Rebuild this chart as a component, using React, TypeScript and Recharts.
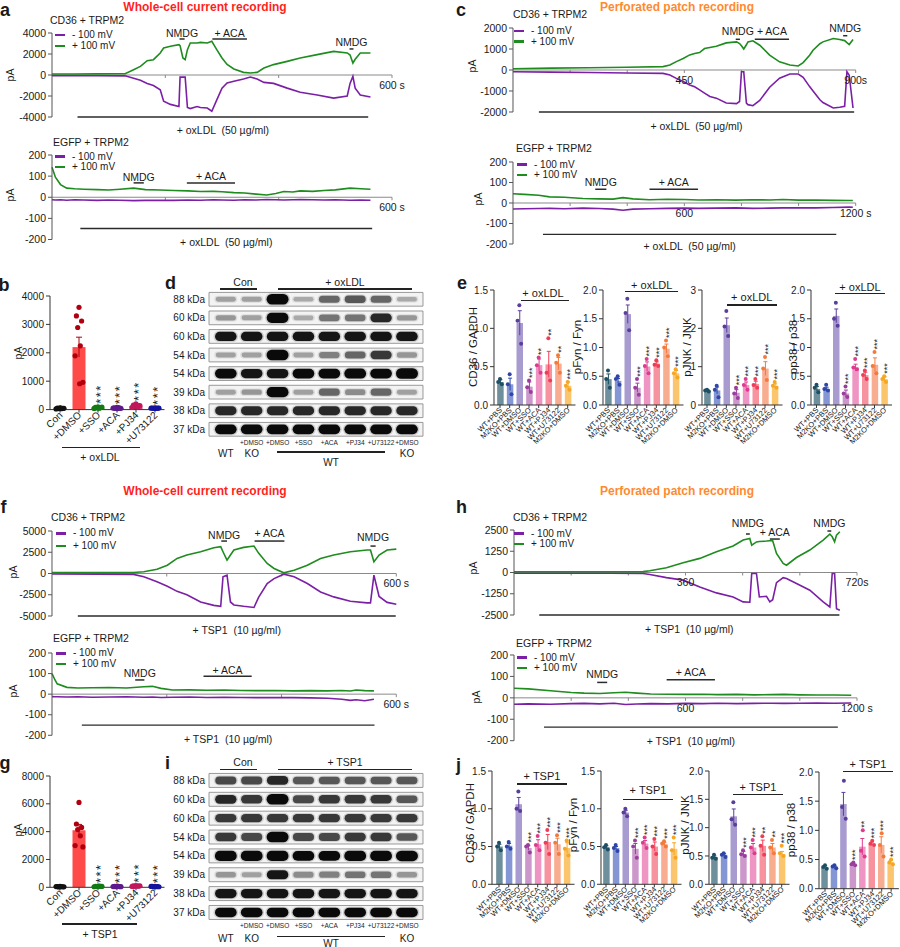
import React from 'react'
import {
  LineChart, Line, XAxis, YAxis, ReferenceLine, Legend,
  ComposedChart, Bar, Scatter, ScatterChart, ReferenceArea,
} from 'recharts'

const FONT = '"Liberation Sans", Arial, Helvetica, sans-serif'
const GREEN = '#1e8c1e'
const PURPLE = '#7b1fa6'
const INK = '#1a1a1a'
const OX = '+ oxLDL \u00a0(50 µg/ml)'
const TSP = '+ TSP1 \u00a0(10 µg/ml)'

// ---- current traces (time in s, current in pA) ----
const aTopT = [0, 40, 80, 129, 144, 156, 168, 179, 191, 197, 209, 224, 226, 231, 235, 239, 244, 256, 262, 274, 282, 291, 300, 309, 321, 338, 350, 362, 374, 391, 415, 438, 468, 497, 521, 526, 531, 535, 544, 562]
const aTopPos = [100, 100, 110, 120, 500, 820, 1360, 1460, 2100, 2570, 2730, 2890, 2800, 1620, 1460, 2410, 3050, 3050, 3110, 3050, 3210, 2400, 1620, 1000, 570, 250, 190, 250, 660, 990, 1300, 1620, 1940, 2250, 2100, 1900, 1140, 1500, 2100, 2100]
const aTopNeg = [-60, -60, -70, -80, -300, -500, -800, -1000, -1400, -2500, -2800, -3000, -200, -200, -200, -3100, -3200, -3000, -3100, -3150, -3450, -2350, -1250, -750, -600, -380, -200, -380, -700, -800, -1250, -1650, -1900, -2200, -2000, -800, -130, -1250, -1900, -2100]

const aBotT = [0, 6, 15, 26, 40, 56, 80, 100, 120, 144, 165, 190, 215, 240, 262, 285, 300, 321, 340, 360, 379, 395, 409, 425, 438, 460, 480, 500, 526, 545, 562]
const aBotPos = [142, 95, 60, 43, 40, 38, 36, 34, 38, 43, 36, 34, 32, 30, 27, 28, 26, 22, 20, 15, 11, 18, 27, 25, 30, 28, 32, 35, 43, 40, 38]
const aBotNeg = [-12, -13, -12, -14, -12, -13, -15, -13, -14, -16, -15, -14, -15, -13, -14, -12, -13, -14, -12, -13, -11, -12, -13, -12, -11, -12, -13, -12, -14, -13, -14]

const cTopT = [0, 100, 200, 300, 394, 412, 429, 447, 464, 477, 490, 503, 517, 534, 560, 587, 595, 600, 606, 613, 617, 630, 648, 674, 700, 727, 749, 762, 779, 788, 806, 814, 841, 858, 871, 877, 883, 893]
const cTopPos = [60, 90, 110, 130, 160, 240, 400, 550, 720, 790, 830, 1020, 1070, 1130, 1290, 1340, 1260, 1150, 1000, 1200, 1340, 1390, 1180, 710, 390, 240, 190, 350, 700, 940, 1250, 1340, 1500, 1450, 1400, 1300, 1210, 1450]
const cTopNeg = [-80, -100, -120, -140, -160, -240, -400, -550, -710, -800, -950, -1100, -1260, -1340, -1575, -1600, -1500, -80, -80, -1575, -1650, -1700, -1450, -820, -390, -190, -190, -350, -790, -1000, -1420, -1550, -1810, -1770, -1730, -80, -250, -1810]

const cBotT = [0, 40, 90, 128, 180, 245, 300, 350, 385, 420, 478, 540, 600, 650, 712, 780, 840, 900, 945, 1000, 1060, 1120, 1178, 1190]
const cBotPos = [45, 42, 38, 30, 28, 22, 20, 19, 26, 20, 16, 18, 17, 15, 16, 14, 16, 15, 17, 14, 15, 13, 12, 12]
const cBotNeg = [-29, -28, -27, -26, -28, -25, -27, -30, -35, -30, -28, -26, -25, -26, -25, -24, -26, -25, -24, -23, -24, -22, -20, -21]

const fTopT = [0, 80, 142, 160, 183, 201, 218, 235, 259, 282, 294, 298, 305, 311, 317, 334, 352, 360, 375, 387, 404, 422, 445, 468, 491, 520, 549, 555, 561, 570, 584, 600]
const fTopPos = [100, 100, 120, 200, 510, 980, 1770, 2170, 2560, 3030, 3150, 2560, 1570, 2170, 2760, 3070, 3230, 2400, 1180, 590, 80, 390, 980, 1770, 2170, 2560, 2760, 2760, 1380, 2170, 2760, 2870]
const fTopNeg = [-60, -70, -100, -390, -980, -1500, -2100, -2500, -3350, -3750, -3860, -390, -200, -3350, -3700, -3860, -4000, -2800, -1180, -600, -80, -390, -1180, -2170, -2750, -3270, -3460, -3460, -200, -2700, -3400, -3620]

const fBotT = [0, 5, 9, 26, 45, 70, 100, 130, 160, 175, 190, 210, 240, 270, 300, 330, 360, 390, 420, 450, 480, 505, 520, 530, 545, 561]
const fBotPos = [100, 70, 50, 33, 30, 31, 32, 30, 36, 38, 28, 20, 21, 19, 20, 18, 17, 18, 16, 17, 16, 18, 15, 20, 17, 16]
const fBotNeg = [-12, -13, -13, -14, -13, -15, -14, -13, -15, -14, -16, -15, -14, -16, -15, -16, -17, -16, -17, -18, -20, -25, -30, -27, -32, -25]

const hTopT = [0, 100, 200, 271, 285, 320, 355, 390, 425, 460, 481, 495, 499, 509, 515, 530, 537, 543, 551, 565, 572, 593, 621, 649, 663, 668, 673, 677, 684]
const hTopPos = [40, 40, 45, 50, 100, 275, 570, 830, 1220, 1560, 1910, 2000, 1610, 1800, 1820, 1850, 1870, 1870, 1120, 530, 430, 880, 1320, 1910, 2260, 2100, 1810, 2200, 2400]
const hTopNeg = [-40, -40, -45, -60, -120, -300, -450, -850, -1200, -1440, -1730, -1750, -60, -60, -1440, -1400, -1730, -1600, -600, -300, -350, -650, -1040, -1730, -2030, -60, -60, -2130, -2220]

const hBotT = [0, 50, 128, 200, 245, 300, 350, 390, 430, 478, 540, 600, 660, 712, 780, 840, 900, 945, 1000, 1060, 1120, 1180]
const hBotPos = [45, 42, 33, 25, 22, 20, 24, 26, 22, 18, 17, 16, 17, 15, 16, 14, 15, 16, 14, 13, 13, 12]
const hBotNeg = [-30, -28, -30, -27, -26, -28, -25, -31, -29, -27, -28, -26, -27, -25, -27, -26, -25, -26, -25, -24, -25, -24]

// application periods (s)
const aTopNmdg = [[225, 234], [525, 532]]
const aTopAca = [283, 344]
const aTopDrug = [45, 558]
const aBotNmdg = [144, 162]
const aBotAca = [238, 323]
const aBotDrug = [50, 565]
const cTopNmdg = [[585, 596], [867, 878]]
const cTopAca = [635, 725]
const cTopDrug = [68, 896]
const cBotNmdg = [288, 327]
const cBotAca = [478, 648]
const cBotDrug = [105, 1132]
const fTopNmdg = [[295, 305], [555, 564]]
const fTopAca = [353, 405]
const fTopDrug = [45, 599]
const fBotNmdg = [145, 161]
const fBotAca = [264, 348]
const fBotDrug = [52, 562]
const hTopNmdg = [[487, 495], [658, 666]]
const hTopAca = [537, 558]
const hTopDrug = [53, 683]
const hBotNmdg = [291, 326]
const hBotAca = [534, 703]
const hBotDrug = [105, 1133]

// axis ticks
const ticks4k = [-4000, -2000, 0, 2000, 4000]
const ticks2k = [-2000, -1000, 0, 1000, 2000]
const ticks5k = [-5000, -2500, 0, 2500, 5000]
const ticks2500 = [-2500, -1250, 0, 1250, 2500]
const ticks200 = [-200, -100, 0, 100, 200]
const t600 = [200, 400, 600]
const t900 = [150, 300, 450, 600, 750, 900]
const t720 = [120, 240, 360, 480, 600, 720]
const t1200 = [200, 400, 600, 800, 1000, 1200]
const lab600 = { 600: '600 s' }
const lab900 = { 450: '450', 900: '900s' }
const lab720 = { 360: '360', 720: '720s' }
const lab1200 = { 600: '600', 1200: '1200 s' }
const seriesOrder = ['- 100 mV', '+ 100 mV']

// ---- b / g : current summary ----
const bCats = ['Con', '+DMSO', '+SSO', '+ACA', '+PJ34', '+U73122']
const bMeans = [45, 2200, 70, 55, 125, 50]
const bErrs = [6, 350, 8, 6, 16, 3]
const bDots = [
  [60, 50, 40, 35, 30, 25, 45, 55],
  [3600, 3300, 3120, 2890, 2245, 1895, 960, 910],
  [100, 80, 70, 60, 50, 40, 90, 65],
  [80, 60, 50, 40, 70, 55, 45, 35],
  [200, 160, 130, 110, 90, 80, 140, 100],
  [60, 55, 50, 45, 40, 50, 55, 48],
]
const bSig = ['', '', '***', '***', '***', '***']
const gMeans = [45, 4100, 65, 57, 90, 55]
const gErrs = [5, 420, 7, 6, 8, 4]
const gDots = [
  [60, 50, 40, 30, 45, 55, 35],
  [6100, 4550, 4300, 4150, 3700, 3000, 2900],
  [90, 70, 60, 50, 80, 40, 65],
  [80, 60, 50, 40, 70, 55, 45],
  [120, 100, 80, 70, 90, 60, 110],
  [70, 60, 50, 45, 55, 65, 40],
]
const bTicks = [0, 1000, 2000, 3000, 4000]
const gTicks = [0, 2000, 4000, 6000, 8000]
const bBarColors = ['#444444', '#ff4a4a', '#3a9a3a', '#7b3aa5', '#d63a78', '#3a3ab5']
const bDotColors = ['#111111', '#b00010', '#127a12', '#5c1a8c', '#c0185a', '#14149c']

// ---- e / j : blot quantification ----
const eCats = ['WT+PBS', 'M2KO+PBS', 'WT+DMSO', 'WT+SSO', 'WT+ACA', 'WT+PJ34', 'WT+U73122', 'M2KO+DMSO']
const eBar = ['#6e909d', '#8596d4', '#a89bd0', '#cc98cc', '#ef95c3', '#f7939f', '#f9ad90', '#fbc56d']
const eDot = ['#1e4f64', '#2d46a8', '#5b3d9b', '#9b3d9d', '#de3a8e', '#ef3d58', '#f47a3c', '#f5a623']

const e1Means = [0.30, 0.27, 1.07, 0.24, 0.52, 0.53, 0.54, 0.25]
const e1Errs = [0.03, 0.08, 0.16, 0.06, 0.08, 0.17, 0.08, 0.05]
const e1Dots = [[0.34, 0.30, 0.27], [0.40, 0.27, 0.14], [1.30, 1.10, 0.80], [0.32, 0.23, 0.17], [0.62, 0.52, 0.42], [0.87, 0.42, 0.32], [0.65, 0.55, 0.42], [0.30, 0.25, 0.20]]
const e1Sig = ['', '', '', '***', '**', '**', '**', '***']
const e2Means = [0.45, 0.42, 1.58, 0.30, 0.67, 0.72, 0.98, 0.55]
const e2Errs = [0.09, 0.04, 0.16, 0.08, 0.08, 0.03, 0.08, 0.05]
const e2Dots = [[0.60, 0.45, 0.30], [0.50, 0.45, 0.35], [1.85, 1.60, 1.30], [0.45, 0.30, 0.18], [0.80, 0.68, 0.55], [0.78, 0.70, 0.68], [1.12, 1.00, 0.85], [0.62, 0.55, 0.48]]
const e3Means = [0.38, 0.38, 2.08, 0.32, 0.52, 0.55, 0.95, 0.50]
const e3Errs = [0.02, 0.09, 0.19, 0.08, 0.08, 0.07, 0.18, 0.05]
const e3Dots = [[0.40, 0.38, 0.35], [0.50, 0.40, 0.20], [2.45, 2.05, 1.80], [0.45, 0.30, 0.18], [0.68, 0.52, 0.40], [0.68, 0.52, 0.45], [1.25, 0.95, 0.65], [0.60, 0.50, 0.45]]
const e4Means = [0.28, 0.28, 1.55, 0.20, 0.65, 0.52, 0.70, 0.45]
const e4Errs = [0.04, 0.03, 0.12, 0.06, 0.06, 0.05, 0.12, 0.04]
const e4Dots = [[0.35, 0.30, 0.22], [0.35, 0.28, 0.25], [1.78, 1.50, 1.38], [0.32, 0.20, 0.14], [0.80, 0.65, 0.62], [0.60, 0.52, 0.45], [0.92, 0.68, 0.55], [0.50, 0.45, 0.40]]
const allSig = ['', '', '', '***', '***', '***', '***', '***']

const j1Means = [0.50, 0.51, 1.06, 0.48, 0.53, 0.56, 0.53, 0.48]
const j1Errs = [0.03, 0.03, 0.09, 0.03, 0.06, 0.10, 0.08, 0.07]
const j1Dots = [[0.55, 0.50, 0.45], [0.56, 0.50, 0.47], [1.23, 1.00, 0.97], [0.52, 0.50, 0.42], [0.64, 0.52, 0.45], [0.72, 0.55, 0.40], [0.65, 0.55, 0.40], [0.58, 0.47, 0.38]]
const j2Means = [0.49, 0.48, 0.95, 0.47, 0.54, 0.50, 0.53, 0.47]
const j2Errs = [0.02, 0.02, 0.03, 0.07, 0.04, 0.06, 0.02, 0.08]
const j2Dots = [[0.52, 0.49, 0.46], [0.52, 0.48, 0.44], [1.00, 0.95, 0.90], [0.58, 0.50, 0.35], [0.62, 0.55, 0.48], [0.60, 0.50, 0.40], [0.57, 0.54, 0.50], [0.62, 0.45, 0.35]]
const j3Means = [0.48, 0.52, 1.20, 0.53, 0.65, 0.68, 0.65, 0.53]
const j3Errs = [0.02, 0.02, 0.13, 0.05, 0.07, 0.10, 0.07, 0.05]
const j3Dots = [[0.52, 0.47, 0.45], [0.55, 0.52, 0.48], [1.45, 1.15, 1.05], [0.60, 0.53, 0.50], [0.78, 0.65, 0.55], [0.85, 0.68, 0.52], [0.78, 0.65, 0.55], [0.68, 0.55, 0.50]]
const j3Sig = ['', '', '', '***', '***', '**', '**', '***']
const j4Means = [0.37, 0.38, 1.45, 0.42, 0.72, 0.77, 0.75, 0.45]
const j4Errs = [0.02, 0.02, 0.20, 0.02, 0.14, 0.03, 0.14, 0.03]
const j4Dots = [[0.40, 0.37, 0.34], [0.40, 0.38, 0.35], [1.85, 1.40, 1.20], [0.45, 0.42, 0.40], [1.00, 0.65, 0.55], [0.82, 0.77, 0.75], [0.95, 0.75, 0.55], [0.50, 0.45, 0.42]]
const j4Sig = ['', '', '', '***', '**', '***', '***', '***']

const t15 = [0, 0.5, 1, 1.5]
const t20 = [0, 0.5, 1, 1.5, 2]
const t30 = [0, 1, 2, 3]

// ---- d / i : western blots (relative band intensity per lane) ----
const blotKda = ['88 kDa', '60 kDa', '60 kDa', '54 kDa', '54 kDa', '39 kDa', '38 kDa', '37 kDa']
const blotNames = ['CD36', 'pFyn', 'Fyn', 'pJNK', 'JNK', 'pp38', 'p38', 'GAPDH']
const laneTop = ['', '+DMSO', '+DMSO', '+SSO', '+ACA', '+PJ34', '+U73122', '+DMSO']
const ROWS = [0, 1, 2, 3, 4, 5, 6, 7]
const dBands = [
  [0.35, 0.35, 1, 0.3, 0.6, 0.65, 0.6, 0.3],
  [0.4, 0.35, 0.95, 0.3, 0.55, 0.55, 0.8, 0.4],
  [0.85, 0.85, 0.85, 0.85, 0.85, 0.85, 0.85, 0.85],
  [0.35, 0.35, 1, 0.35, 0.5, 0.6, 0.75, 0.4],
  [0.9, 0.85, 0.85, 0.9, 0.9, 0.95, 0.9, 1],
  [0.35, 0.4, 0.95, 0.35, 0.6, 0.45, 0.6, 0.35],
  [0.8, 0.8, 0.8, 0.8, 0.8, 0.8, 0.8, 0.8],
  [0.9, 0.9, 0.9, 0.9, 0.9, 0.9, 0.9, 0.9],
]
const iBands = [
  [0.7, 0.7, 0.8, 0.65, 0.65, 0.65, 0.65, 0.65],
  [0.8, 0.75, 1, 0.7, 0.75, 0.75, 0.75, 0.65],
  [0.75, 0.75, 0.75, 0.75, 0.75, 0.75, 0.75, 0.75],
  [0.75, 0.7, 1, 0.7, 0.7, 0.75, 0.75, 0.65],
  [0.95, 0.95, 0.95, 0.9, 0.9, 0.95, 0.95, 1],
  [0.4, 0.35, 0.85, 0.45, 0.5, 0.55, 0.55, 0.4],
  [0.85, 0.85, 0.85, 0.85, 0.85, 0.85, 0.85, 0.85],
  [0.9, 0.9, 0.9, 0.9, 0.9, 0.9, 0.9, 0.9],
]

// ---------- helpers ----------
function Txt({ x, y, s = 10.5, a = 'start', w = 400, c = INK, r = 0, children }: any) {
  const tx = a === 'middle' ? '-50%' : a === 'end' ? '-100%' : '0'
  return (
    <div style={{
      position: 'absolute', left: x, top: y, fontSize: s, fontWeight: w, color: c, whiteSpace: 'nowrap',
      lineHeight: 1, transform: `translate(${tx}, -50%) rotate(${r}deg)`,
    }}>{children}</div>
  )
}

function HLine({ x1, x2, y, c = '#222', h = 1.2 }: any) {
  return <div style={{ position: 'absolute', left: x1, top: y - h / 2, width: x2 - x1, height: h, background: c }} />
}

const legendContent = (lh: number) => (props: any) => {
  const items = [...(props.payload || [])].sort((p: any, q: any) => seriesOrder.indexOf(p.value) - seriesOrder.indexOf(q.value))
  return (
    <div style={{ fontSize: 10, color: INK, whiteSpace: 'nowrap' }}>
      {items.map((e: any) => (
        <div key={e.value} style={{ display: 'flex', alignItems: 'center', height: lh, lineHeight: 1 }}>
          <span style={{ display: 'inline-block', width: 10, height: 2.5, background: e.color, marginRight: 7 }} />
          <span>{e.value}</span>
        </div>
      ))}
    </div>
  )
}

type Mark = { t: number[]; at: number; text: string; off: number; below?: boolean }

function Trace(p: any) {
  const YW = 44, MT = 30, MR = 30, MB = 30
  const data = p.t.map((s: number, i: number) => ({ t: s, pos: p.pos[i], neg: p.neg[i] }))
  const tk = ((p.yDomain[1] - p.yDomain[0]) / p.ph) * 3
  const left = p.px - YW
  const top = p.py - MT
  return (
    <div style={{ position: 'absolute', left, top }}>
      <LineChart width={YW + p.pw + MR} height={MT + p.ph + MB} data={data} margin={{ top: MT, right: MR, bottom: MB, left: 0 }}>
        <XAxis type="number" dataKey="t" domain={[0, p.xMax]} hide />
        <YAxis type="number" domain={p.yDomain} ticks={p.yTicks} interval={0} width={YW} stroke="#555" tickSize={4} tickMargin={2}
          tick={{ fontSize: 10.5, fill: INK }} />
        <ReferenceLine y={0} stroke="#8a8a8a" />
        {p.xTicks.map((s: number) => (
          <ReferenceLine key={s} segment={[{ x: s, y: 0 }, { x: s, y: -tk }]} stroke="#8a8a8a" ifOverflow="visible"
            label={p.xLabels[s] ? { value: p.xLabels[s], position: 'bottom', offset: 3.5, fontSize: 10.5, fill: INK } : undefined} />
        ))}
        {p.marks.map((m: Mark, i: number) => (
          <ReferenceLine key={'m' + i} segment={[{ x: m.t[0], y: m.at }, { x: m.t[1], y: m.at }]}
            stroke="#2b2b2b" strokeWidth={m.below ? 1.3 : 1.5} ifOverflow="visible"
            label={{ value: m.text, position: m.below ? 'bottom' : 'top', offset: m.off, fontSize: 10.5, fill: INK }} />
        ))}
        <Line type="linear" dataKey="neg" name="- 100 mV" stroke={PURPLE} strokeWidth={1.6} dot={false} isAnimationActive={false} />
        <Line type="linear" dataKey="pos" name="+ 100 mV" stroke={GREEN} strokeWidth={1.6} dot={false} isAnimationActive={false} />
        <Legend layout="vertical" align="center" verticalAlign="middle" content={legendContent(p.lh)}
          wrapperStyle={{ left: p.lx - left, top: p.ly - p.lh / 2 - top, width: 'auto', height: 'auto' }} />
      </LineChart>
    </div>
  )
}

function RotTick(props: any) {
  const { x, y, payload, fs } = props
  return (
    <text x={x + 1} y={y} dy={fs * 0.3} transform={`rotate(-45 ${x + 1} ${y})`} textAnchor="end" fontSize={fs} fill={INK}>
      {payload.value}
    </text>
  )
}

const JIT = [0, -2, 2, -1, 1, -3, 3, 0.5]

function BarDots(p: any) {
  const YW = 34, MT = 40, MR = 4, XH = 60
  const n = p.cats.length
  const pad = p.first - p.ax - p.band / 2
  const pw = pad + p.band * n + p.padR
  const ph = p.bottom - p.top
  const rows = p.cats.map((name: string, i: number) => {
    const row: Record<string, any> = {
      name, i, mean: p.means[i], err: p.errs[i], sig: p.sig[i],
      hi: Math.max(p.means[i] + p.errs[i], ...p.dots[i]),
    }
    p.dots[i].forEach((v: number, k: number) => { row['d' + k] = v })
    return row
  })
  const maxK = Math.max(...p.dots.map((d: number[]) => d.length))

  const barShape = (b: any) => {
    const row = b.payload
    const per = b.height / row.mean
    const cx = b.x + b.width / 2
    const base = b.y + b.height
    const eT = b.y - row.err * per
    const eB = Math.min(base, b.y + row.err * per)
    const hiY = base - row.hi * per - p.starGap
    const col = p.dotColors[row.i]
    return (
      <g>
        <rect x={b.x} y={b.y} width={b.width} height={b.height} fill={p.barColors[row.i]} />
        <line x1={cx} x2={cx} y1={eT} y2={eB} stroke={col} strokeWidth={1} />
        <line x1={cx - p.cap} x2={cx + p.cap} y1={eT} y2={eT} stroke={col} strokeWidth={1} />
        {row.sig ? (
          <text x={cx} y={hiY} dy="0.57em" transform={`rotate(-90 ${cx} ${hiY})`} textAnchor="start"
            fontSize={p.starFs} letterSpacing={p.starLs} fill={INK}>{row.sig}</text>
        ) : null}
      </g>
    )
  }
  const dotShape = (k: number) => (d: any) => {
    const v = d.payload ? d.payload['d' + k] : undefined
    if (v == null || !Number.isFinite(d.cy)) return <g />
    return <circle cx={d.cx + JIT[k] * p.spread} cy={d.cy} r={p.dotR} fill={p.dotColors[d.payload.i]} />
  }

  return (
    <div style={{ position: 'absolute', left: p.ax - YW, top: p.top - MT }}>
      <ComposedChart width={YW + pw + MR} height={MT + ph + XH} data={rows} margin={{ top: MT, right: MR, bottom: 0, left: 0 }}>
        <XAxis dataKey="name" type="category" height={XH} interval={0} padding={{ left: pad, right: p.padR }}
          stroke="#333" tickSize={3} tickMargin={1} tick={<RotTick fs={p.catFs} />} />
        <YAxis type="number" domain={p.domain} ticks={p.ticks} tickFormatter={p.fmt} interval={0} width={YW}
          stroke="#333" tickSize={4} tickMargin={2} tick={{ fontSize: p.fs, fill: INK }} />
        <Bar dataKey="mean" barSize={p.barW} shape={barShape} isAnimationActive={false} />
        {Array.from({ length: maxK }, (_, k) => (
          <Scatter key={k} dataKey={'d' + k} shape={dotShape(k)} isAnimationActive={false} />
        ))}
      </ComposedChart>
    </div>
  )
}

const bandShape = (d: any) => {
  const v = d.payload.v
  const w = 19 + 3 * v
  const h = 2 + 8.5 * v
  const op = Math.min(1, 0.15 + 1.1 * v * v)
  return (
    <g>
      <rect x={d.cx - w / 2 - 1.5} y={d.cy - h / 2 - 1} width={w + 3} height={h + 2} rx={(h + 2) / 2} fill="#000" opacity={0.05 + 0.12 * v} />
      <rect x={d.cx - w / 2} y={d.cy - h / 2} width={w} height={h} rx={h / 2} fill="#0a0a0a" opacity={op} />
    </g>
  )
}

const BL = 209, BW = 214, BX0 = -0.65, BX1 = 7.62
const laneX = (k: number) => BL + ((k - BX0) * BW) / (BX1 - BX0)

function Blot(p: any) {
  const LW = 50, RW = 50
  const data = p.rows.flatMap((vals: number[], row: number) => vals.map((v, lane) => ({ lane, row, v })))
  return (
    <div style={{ position: 'absolute', left: BL - LW, top: p.top }}>
      <ScatterChart width={LW + BW + RW} height={p.ph} margin={{ top: 0, right: 0, bottom: 0, left: 0 }}>
        <XAxis type="number" dataKey="lane" domain={[BX0, BX1]} hide />
        <YAxis yAxisId="l" type="number" dataKey="row" domain={[-0.5, 7.5]} reversed ticks={ROWS} interval={0}
          tickFormatter={(v: number) => blotKda[v]} width={LW} axisLine={false} tickLine={false} tickSize={2} tickMargin={2}
          tick={{ fontSize: 10, fill: INK }} />
        <YAxis yAxisId="r" orientation="right" type="number" domain={[-0.5, 7.5]} reversed ticks={ROWS} interval={0}
          tickFormatter={(v: number) => blotNames[v]} width={RW} axisLine={false} tickLine={false} tickSize={2} tickMargin={2}
          tick={{ fontSize: 10, fill: INK }} />
        {ROWS.map((r) => (
          <ReferenceArea key={r} yAxisId="l" x1={BX0} x2={BX1} y1={r - 0.37} y2={r + 0.37} fill="#f3f3f3" fillOpacity={1}
            stroke="#8f8f8f" strokeWidth={0.9} ifOverflow="visible" />
        ))}
        <Scatter yAxisId="l" data={data} shape={bandShape} isAnimationActive={false} />
      </ScatterChart>
    </div>
  )
}

function BlotLabels({ head, drug, yh, yl, ys, yk, yw }: any) {
  return (
    <>
      <Txt x={243} y={head} a="middle">Con</Txt>
      <HLine x1={220} x2={257} y={yl} />
      <Txt x={345} y={head} a="middle">{drug}</Txt>
      <HLine x1={278} x2={412} y={yl} />
      {laneTop.map((s, k) => (s ? <Txt key={k} x={laneX(k)} y={ys} s={6.5} a="middle">{s}</Txt> : null))}
      <Txt x={laneX(0)} y={yk} s={10} a="middle">WT</Txt>
      <Txt x={laneX(1)} y={yk} s={10} a="middle">KO</Txt>
      <Txt x={laneX(7)} y={yk} s={10} a="middle">KO</Txt>
      <HLine x1={277} x2={385} y={yh} />
      <Txt x={331} y={yw} s={10} a="middle">WT</Txt>
    </>
  )
}

const f1 = (v: number) => v.toFixed(1)
const f0 = (v: number) => String(v)
const eCommon = {
  cats: eCats, barColors: eBar, dotColors: eDot, band: 9.67, padR: 3, barW: 6.5, dotR: 2, spread: 0.9,
  fs: 10, catFs: 7.5, starFs: 9, starLs: 0, starGap: 2.5, cap: 2,
}
const bCommon = {
  cats: bCats, barColors: bBarColors, dotColors: bDotColors, band: 19, padR: 0, barW: 13, dotR: 2.6, spread: 1.3,
  fs: 10, catFs: 10, starFs: 13, starLs: 1.5, starGap: 3, cap: 3, sig: bSig,
}

export default function App() {
  return (
    <div style={{ position: 'absolute', left: 0, top: 0, width: 900, height: 947, overflow: 'hidden', background: '#fff', fontFamily: FONT, color: INK }}>
      <Txt x={205} y={6.5} s={12} w={700} c="#ff1f1f" a="middle">Whole-cell current recording</Txt>
      <Txt x={677} y={6.5} s={12} w={700} c="#ff8a2e" a="middle">Perforated patch recording</Txt>
      <Txt x={205} y={491} s={12} w={700} c="#ff1f1f" a="middle">Whole-cell current recording</Txt>
      <Txt x={677} y={491} s={12} w={700} c="#ff8a2e" a="middle">Perforated patch recording</Txt>

      {[['a', 5, 9.5], ['b', 4, 285], ['c', 461, 10], ['d', 170.5, 282.5], ['e', 462, 283], ['f', 3.5, 507], ['g', 5, 763], ['h', 461.5, 507], ['i', 167.5, 763], ['j', 458.5, 765]].map(([l, x, y]) => (
        <Txt key={l as string} x={x} y={y} s={18} w={700} a="middle">{l}</Txt>
      ))}

      {/* a */}
      <Txt x={50} y={20}>CD36 + TRPM2</Txt>
      <Txt x={10} y={75} r={-90} a="middle">pA</Txt>
      <Trace px={51.7} py={33.3} pw={340} ph={84} t={aTopT} pos={aTopPos} neg={aTopNeg} yDomain={[-4000, 4000]} yTicks={ticks4k}
        xMax={600} xTicks={t600} xLabels={lab600} lx={55} ly={35} lh={11}
        marks={[
          { t: aTopNmdg[0], at: 3430, text: 'NMDG', off: 2.2 },
          { t: aTopAca, at: 3430, text: '+ ACA', off: 1.5 },
          { t: aTopNmdg[1], at: 2480, text: 'NMDG', off: 2.5 },
          { t: aTopDrug, at: -4000, text: OX, off: 9.3, below: true },
        ]} />
      <Txt x={53} y={142}>EGFP + TRPM2</Txt>
      <Txt x={10} y={195} r={-90} a="middle">pA</Txt>
      <Trace px={51.7} py={155} pw={340} ph={84.5} t={aBotT} pos={aBotPos} neg={aBotNeg} yDomain={[-200, 200]} yTicks={ticks200}
        xMax={600} xTicks={t600} xLabels={lab600} lx={55} ly={156.5} lh={10.5}
        marks={[
          { t: aBotNmdg, at: 68, text: 'NMDG', off: 2.2 },
          { t: aBotAca, at: 68, text: '+ ACA', off: 2.9 },
          { t: aBotDrug, at: -148, text: OX, off: 10.3, below: true },
        ]} />

      {/* c */}
      <Txt x={513} y={14}>CD36 + TRPM2</Txt>
      <Txt x={472} y={66} r={-90} a="middle">pA</Txt>
      <Trace px={513.3} py={28} pw={342.7} ph={84} t={cTopT} pos={cTopPos} neg={cTopNeg} yDomain={[-2000, 2000]} yTicks={ticks2k}
        xMax={900} xTicks={t900} xLabels={lab900} lx={514} ly={31} lh={10.5}
        marks={[
          { t: cTopNmdg[0], at: 1462, text: 'NMDG', off: 3.8 },
          { t: cTopAca, at: 1462, text: '+ ACA', off: 3.8 },
          { t: cTopNmdg[1], at: 1633, text: 'NMDG', off: 3.6 },
          { t: cTopDrug, at: -2000, text: OX, off: 10.5, below: true },
        ]} />
      <Txt x={516} y={148}>EGFP + TRPM2</Txt>
      <Txt x={478} y={199} r={-90} a="middle">pA</Txt>
      <Trace px={513.3} py={162} pw={342.7} ph={82} t={cBotT} pos={cBotPos} neg={cBotNeg} yDomain={[-200, 200]} yTicks={ticks200}
        xMax={1200} xTicks={t1200} xLabels={lab1200} lx={517} ly={164.5} lh={10.5}
        marks={[
          { t: cBotNmdg, at: 67, text: 'NMDG', off: 2.8 },
          { t: cBotAca, at: 67, text: '+ ACA', off: 2.8 },
          { t: cBotDrug, at: -153, text: OX, off: 8.5, below: true },
        ]} />

      {/* b */}
      <Txt x={18.3} y={353} r={-90} a="middle">pA</Txt>
      <BarDots ax={50} top={295.7} bottom={409.3} first={60} means={bMeans} errs={bErrs} dots={bDots}
        domain={[0, 4000]} ticks={bTicks} fmt={f0} {...bCommon} />
      <HLine x1={61.7} x2={140} y={447.7} />
      <Txt x={100} y={456.7} a="middle">+ oxLDL</Txt>

      {/* d */}
      <Blot top={289.7} ph={148.6} rows={dBands} />
      <BlotLabels head={282} drug="+ oxLDL" yl={289} ys={443} yk={454} yh={452} yw={463} />

      {/* e */}
      <Txt x={474} y={347} s={11.5} r={-90} a="middle">CD36 / GAPDH</Txt>
      <BarDots ax={494} top={290} bottom={405} first={500} means={e1Means} errs={e1Errs} dots={e1Dots} sig={e1Sig}
        domain={[0, 1.5]} ticks={t15} fmt={f1} {...eCommon} />
      <HLine x1={521} x2={569} y={300.5} />
      <Txt x={543} y={293} s={11} a="middle">+ oxLDL</Txt>

      <Txt x={578.3} y={347} s={11.5} r={-90} a="middle">pFyn / Fyn</Txt>
      <BarDots ax={603.3} top={290} bottom={405} first={608.3} means={e2Means} errs={e2Errs} dots={e2Dots} sig={allSig}
        domain={[0, 2]} ticks={t20} fmt={f1} {...eCommon} />
      <HLine x1={625} x2={678.3} y={291.7} />
      <Txt x={651.7} y={285} s={11} a="middle">+ oxLDL</Txt>

      <Txt x={688.3} y={347} s={11.5} r={-90} a="middle">pJNK / JNK</Txt>
      <BarDots ax={701.7} top={290} bottom={405} first={706.7} means={e3Means} errs={e3Errs} dots={e3Dots} sig={allSig}
        domain={[0, 3]} ticks={t30} fmt={f0} {...eCommon} />
      <HLine x1={726.7} x2={776.7} y={305} />
      <Txt x={751.7} y={297.3} s={11} a="middle">+ oxLDL</Txt>

      <Txt x={794} y={347} s={11.5} r={-90} a="middle">pp38 / p38</Txt>
      <BarDots ax={811} top={290} bottom={405} first={816.5} means={e4Means} errs={e4Errs} dots={e4Dots} sig={allSig}
        domain={[0, 2]} ticks={t20} fmt={f1} {...eCommon} />
      <HLine x1={835} x2={885} y={293.3} />
      <Txt x={860} y={286.7} s={11} a="middle">+ oxLDL</Txt>

      {/* f */}
      <Txt x={51} y={517.3}>CD36 + TRPM2</Txt>
      <Txt x={13} y={572} r={-90} a="middle">pA</Txt>
      <Trace px={51.7} py={531} pw={344.3} ph={85} t={fTopT} pos={fTopPos} neg={fTopNeg} yDomain={[-5000, 5000]} yTicks={ticks5k}
        xMax={600} xTicks={t600} xLabels={lab600} lx={56} ly={533.3} lh={12.7}
        marks={[
          { t: fTopNmdg[0], at: 3818, text: 'NMDG', off: 2.2 },
          { t: fTopAca, at: 3818, text: '+ ACA', off: 3.9 },
          { t: fTopNmdg[1], at: 3227, text: 'NMDG', off: 5.5 },
          { t: fTopDrug, at: -5000, text: TSP, off: 10.3, below: true },
        ]} />
      <Txt x={53} y={638.3}>EGFP + TRPM2</Txt>
      <Txt x={13} y={690.7} r={-90} a="middle">pA</Txt>
      <Trace px={51.7} py={652.7} pw={344.3} ph={82.3} t={fBotT} pos={fBotPos} neg={fBotNeg} yDomain={[-200, 200]} yTicks={ticks200}
        xMax={600} xTicks={t600} xLabels={lab600} lx={56} ly={653.5} lh={10.5}
        marks={[
          { t: fBotNmdg, at: 69, text: 'NMDG', off: 2.8 },
          { t: fBotAca, at: 87, text: '+ ACA', off: 2.6 },
          { t: fBotDrug, at: -151, text: TSP, off: 10.3, below: true },
        ]} />

      {/* h */}
      <Txt x={513} y={516.7}>CD36 + TRPM2</Txt>
      <Txt x={472.7} y={568} r={-90} a="middle">pA</Txt>
      <Trace px={514} py={530} pw={343} ph={85} t={hTopT} pos={hTopPos} neg={hTopNeg} yDomain={[-2500, 2500]} yTicks={ticks2500}
        xMax={720} xTicks={t720} xLabels={lab720} lx={514} ly={533.5} lh={10.5}
        marks={[
          { t: hTopNmdg[0], at: 2264, text: 'NMDG', off: 7.2 },
          { t: hTopAca, at: 1968, text: '+ ACA', off: 3.2 },
          { t: hTopNmdg[1], at: 2441, text: 'NMDG', off: 4.2 },
          { t: hTopDrug, at: -2500, text: TSP, off: 10.3, below: true },
        ]} />
      <Txt x={516} y={642.7}>EGFP + TRPM2</Txt>
      <Txt x={476} y={696.7} r={-90} a="middle">pA</Txt>
      <Trace px={514} py={655} pw={343} ph={85.7} t={hBotT} pos={hBotPos} neg={hBotNeg} yDomain={[-200, 200]} yTicks={ticks200}
        xMax={1200} xTicks={t1200} xLabels={lab1200} lx={517} ly={657.5} lh={10.5}
        marks={[
          { t: hBotNmdg, at: 72, text: 'NMDG', off: 4.6 },
          { t: hBotAca, at: 85, text: '+ ACA', off: 3.5 },
          { t: hBotDrug, at: -137, text: TSP, off: 10.3, below: true },
        ]} />

      {/* g */}
      <Txt x={18.3} y={830} r={-90} a="middle">pA</Txt>
      <BarDots ax={50} top={776} bottom={887.3} first={60} means={gMeans} errs={gErrs} dots={gDots}
        domain={[0, 8000]} ticks={gTicks} fmt={f0} {...bCommon} />
      <HLine x1={62} x2={137} y={924} />
      <Txt x={100} y={934} a="middle">+ TSP1</Txt>

      {/* i */}
      <Blot top={771.3} ph={150.9} rows={iBands} />
      <BlotLabels head={761.7} drug="+ TSP1" yl={769.5} ys={926} yk={939} yh={936.7} yw={943.5} />

      {/* j */}
      <Txt x={471} y={823} s={11.5} r={-90} a="middle">CD36 / GAPDH</Txt>
      <BarDots ax={492} top={771} bottom={884.3} first={499} means={j1Means} errs={j1Errs} dots={j1Dots} sig={allSig}
        domain={[0, 1.5]} ticks={t15} fmt={f1} {...eCommon} />
      <HLine x1={516.7} x2={567.3} y={784} />
      <Txt x={542} y={776} s={11} a="middle">+ TSP1</Txt>

      <Txt x={574} y={825} s={11.5} r={-90} a="middle">pFyn / Fyn</Txt>
      <BarDots ax={601} top={771} bottom={884.3} first={606} means={j2Means} errs={j2Errs} dots={j2Dots} sig={allSig}
        domain={[0, 1.5]} ticks={t15} fmt={f1} {...eCommon} />
      <HLine x1={623} x2={673} y={799.3} />
      <Txt x={648} y={790} s={11} a="middle">+ TSP1</Txt>

      <Txt x={686} y={825} s={11.5} r={-90} a="middle">pJNK / JNK</Txt>
      <BarDots ax={709} top={771} bottom={884.3} first={714} means={j3Means} errs={j3Errs} dots={j3Dots} sig={j3Sig}
        domain={[0, 2]} ticks={t20} fmt={f1} {...eCommon} />
      <HLine x1={733} x2={783} y={794.3} />
      <Txt x={758} y={787} s={11} a="middle">+ TSP1</Txt>

      <Txt x={792} y={830} s={11.5} r={-90} a="middle">pp38 / p38</Txt>
      <BarDots ax={818.5} top={772.3} bottom={889} first={824.5} means={j4Means} errs={j4Errs} dots={j4Dots} sig={j4Sig}
        domain={[0, 2]} ticks={t20} fmt={f1} {...eCommon} band={9.45} />
      <HLine x1={843} x2={893} y={771.7} />
      <Txt x={868} y={764} s={11} a="middle">+ TSP1</Txt>
    </div>
  )
}
